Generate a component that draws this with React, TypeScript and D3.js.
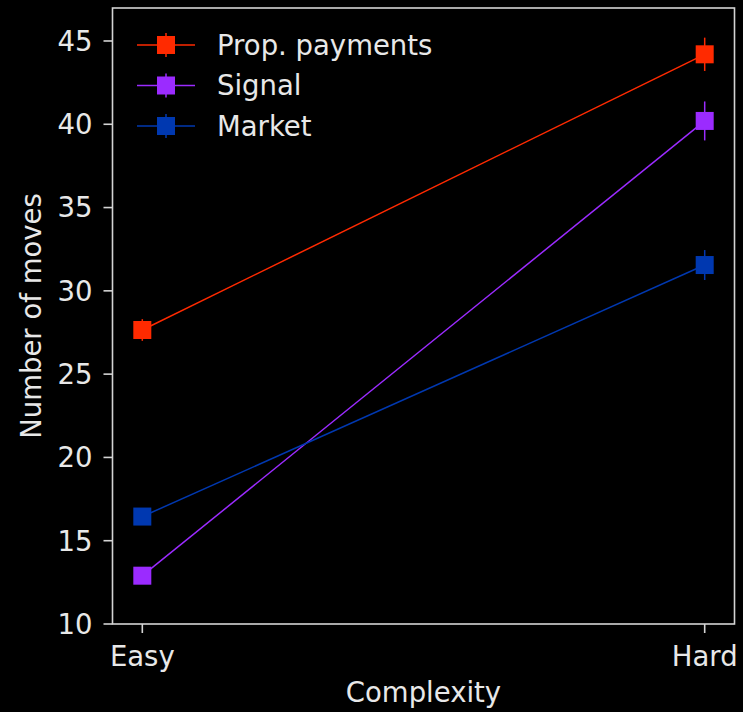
import React from "react";
import * as d3 from "d3";

const categories = ["Easy", "Hard"];
const seriesNames = ["Prop. payments", "Signal", "Market"];
const seriesColors = ["#ff2a00", "#9b2bff", "#0038b0"];
const propPayments = [27.65, 44.2];
const propPaymentsErr = [0.65, 1.0];
const signal = [12.9, 40.2];
const signalErr = [0.4, 1.17];
const market = [16.45, 31.55];
const marketErr = [0.4, 0.9];
const yTicks = [10, 15, 20, 25, 30, 35, 40, 45];

const W = 743;
const H = 712;
const left = 112.5;
const right = 734.5;
const top = 8;
const bottom = 624;
const textColor = "#e8e8e8";
const spineColor = "#d4d4d4";
const font = "DejaVu Sans, sans-serif";
const fs = 27.5;

export default function App() {
  const x = d3.scaleLinear().domain([-0.053, 1.053]).range([left, right]);
  const y = d3.scaleLinear().domain([10, 46.98]).range([bottom, top]);
  const data = [
    { name: seriesNames[0], color: seriesColors[0], v: propPayments, e: propPaymentsErr },
    { name: seriesNames[1], color: seriesColors[1], v: signal, e: signalErr },
    { name: seriesNames[2], color: seriesColors[2], v: market, e: marketErr },
  ];
  const line = d3.line<number>().x((_, i) => x(i)).y((d) => y(d));
  const ms = 18;
  return (
    <svg width={W} height={H} style={{ position: "absolute", left: 0, top: 0, background: "#000" }} fontFamily={font}>
      <rect x={0} y={0} width={W} height={H} fill="#000" />
      {data.map((s) => (
        <g key={s.name}>
          <path d={line(s.v) || ""} fill="none" stroke={s.color} strokeWidth={1.5} />
          {s.v.map((v, i) => (
            <g key={i}>
              <line x1={x(i)} x2={x(i)} y1={y(v - s.e[i])} y2={y(v + s.e[i])} stroke={s.color} strokeWidth={1.5} />
              <rect x={x(i) - ms / 2} y={y(v) - ms / 2} width={ms} height={ms} fill={s.color} />
            </g>
          ))}
        </g>
      ))}
      {/* spines */}
      <rect x={left} y={top} width={right - left} height={bottom - top} fill="none" stroke={spineColor} strokeWidth={1.6} />
      {/* y ticks */}
      {yTicks.map((t) => (
        <g key={t}>
          <line x1={left - 9} x2={left} y1={y(t)} y2={y(t)} stroke={spineColor} strokeWidth={1.6} />
          <text x={left - 20} y={y(t)} dy="0.36em" textAnchor="end" fill={textColor} fontSize={fs}>
            {t}
          </text>
        </g>
      ))}
      {categories.map((c, i) => (
        <g key={c}>
          <line x1={x(i)} x2={x(i)} y1={bottom} y2={bottom + 9} stroke={spineColor} strokeWidth={1.6} />
          <text x={x(i)} y={bottom + 42} textAnchor="middle" fill={textColor} fontSize={fs}>
            {c}
          </text>
        </g>
      ))}
      <text x={(left + right) / 2} y={702} textAnchor="middle" fill={textColor} fontSize={fs}>
        Complexity
      </text>
      <text
        transform={`translate(41,${(top + bottom) / 2}) rotate(-90)`}
        textAnchor="middle"
        fill={textColor}
        fontSize={fs}
      >
        Number of moves
      </text>
      {/* legend */}
      {data.map((s, i) => {
        const ly = 45 + i * 40.5;
        return (
          <g key={s.name}>
            <line x1={137} x2={195} y1={ly} y2={ly} stroke={s.color} strokeWidth={1.5} />
            <line x1={166} x2={166} y1={ly - 12} y2={ly + 12} stroke={s.color} strokeWidth={1.5} />
            <rect x={166 - ms / 2} y={ly - ms / 2} width={ms} height={ms} fill={s.color} />
            <text x={217} y={ly} dy="0.36em" fill={textColor} fontSize={fs}>
              {s.name}
            </text>
          </g>
        );
      })}
    </svg>
  );
}
